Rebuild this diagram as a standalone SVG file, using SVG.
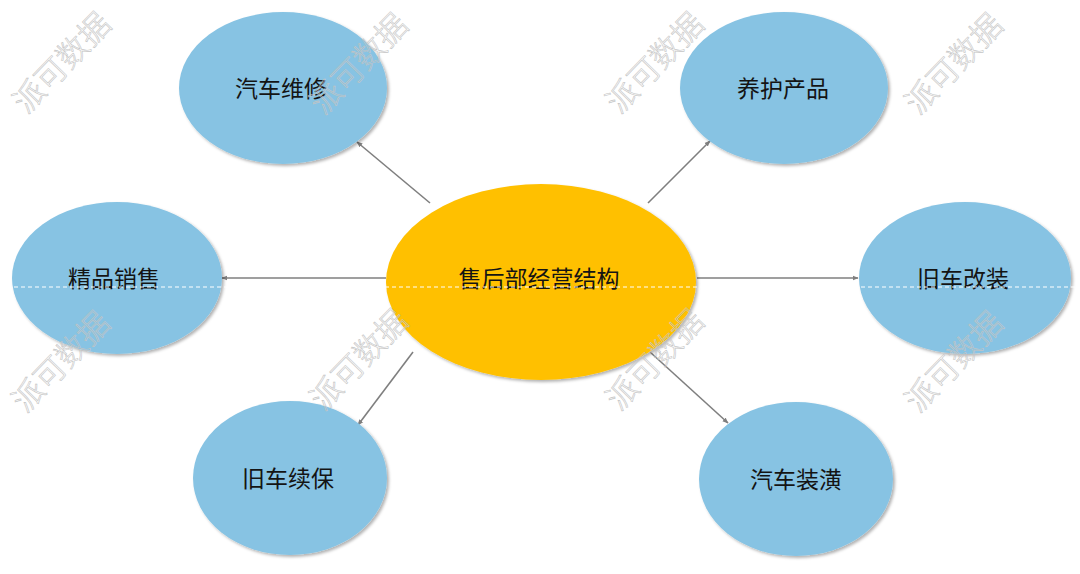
<svg xmlns="http://www.w3.org/2000/svg" width="1080" height="574" viewBox="0 0 1080 574">
<defs>
<style>
.wm{font-family:"Noto Sans CJK SC","Noto Sans",sans-serif;font-size:31px;font-weight:300;fill:none;stroke:#c4c4c4;stroke-width:0.6;text-anchor:middle;dominant-baseline:central}
.lbl{font-family:"Noto Sans CJK SC","Noto Sans",sans-serif;font-size:23px;fill:#141414;text-anchor:middle;dominant-baseline:central}
.sub{fill:#87C3E3}
.main{fill:#FFC000}
.conn{stroke:#7f7f7f;stroke-width:1.6;fill:none;marker-end:url(#arr)}
</style>
<marker id="arr" viewBox="0 0 10 10" refX="9" refY="5" markerWidth="6" markerHeight="6" markerUnits="userSpaceOnUse" orient="auto">
<path d="M0,1 L10,5 L0,9 Z" fill="#7f7f7f"/>
</marker>
<filter id="sh" x="-10%" y="-10%" width="125%" height="125%">
<feDropShadow dx="2" dy="2" stdDeviation="1.5" flood-color="#000" flood-opacity="0.3"/>
</filter>
</defs>
<rect width="1080" height="574" fill="#ffffff"/>
<g id="connectors">
<line class="conn" x1="430" y1="203" x2="357" y2="142"/>
<line class="conn" x1="648" y1="203" x2="710" y2="141"/>
<line class="conn" x1="386" y1="278" x2="222" y2="278"/>
<line class="conn" x1="697" y1="278" x2="858" y2="278"/>
<line class="conn" x1="413" y1="352" x2="358" y2="425"/>
<line class="conn" x1="650" y1="352" x2="728" y2="423"/>
</g>
<g id="n-center">
<ellipse class="main" cx="541" cy="282" rx="155" ry="98" filter="url(#sh)"/>
<text class="lbl" x="539" y="277">售后部经营结构</text>
</g>
<g id="n-weixiu">
<ellipse class="sub" cx="283" cy="88" rx="104" ry="76" filter="url(#sh)"/>
<text class="lbl" x="281" y="87">汽车维修</text>
</g>
<g id="n-yanghu">
<ellipse class="sub" cx="784" cy="88" rx="104" ry="76" filter="url(#sh)"/>
<text class="lbl" x="783" y="87">养护产品</text>
</g>
<g id="n-jingpin">
<ellipse class="sub" cx="117" cy="278" rx="105" ry="76" filter="url(#sh)"/>
<text class="lbl" x="114" y="277">精品销售</text>
</g>
<g id="n-gaizhuang">
<ellipse class="sub" cx="965" cy="278" rx="106" ry="76" filter="url(#sh)"/>
<text class="lbl" x="963" y="277">旧车改装</text>
</g>
<g id="n-xubao">
<ellipse class="sub" cx="290" cy="478" rx="97" ry="77" filter="url(#sh)"/>
<text class="lbl" x="288" y="477">旧车续保</text>
</g>
<g id="n-zhuanghuang">
<ellipse class="sub" cx="796" cy="479" rx="97" ry="77" filter="url(#sh)"/>
<text class="lbl" x="796" y="478">汽车装潢</text>
</g>
<g id="watermarks">
<text class="wm" transform="translate(60,61) rotate(-46)">派可数据</text>
<text class="wm" transform="translate(357,62) rotate(-46)">派可数据</text>
<text class="wm" transform="translate(653,61) rotate(-46)">派可数据</text>
<text class="wm" transform="translate(952,62) rotate(-46)">派可数据</text>
<text class="wm" transform="translate(59,360) rotate(-46)">派可数据</text>
<text class="wm" transform="translate(357,358) rotate(-46)">派可数据</text>
<text class="wm" transform="translate(653,358) rotate(-46)">派可数据</text>
<text class="wm" transform="translate(952,360) rotate(-46)">派可数据</text>
</g>
<line x1="0" y1="287" x2="1080" y2="287" stroke="#ffffff" stroke-width="1" stroke-dasharray="4,3"/>
</svg>
